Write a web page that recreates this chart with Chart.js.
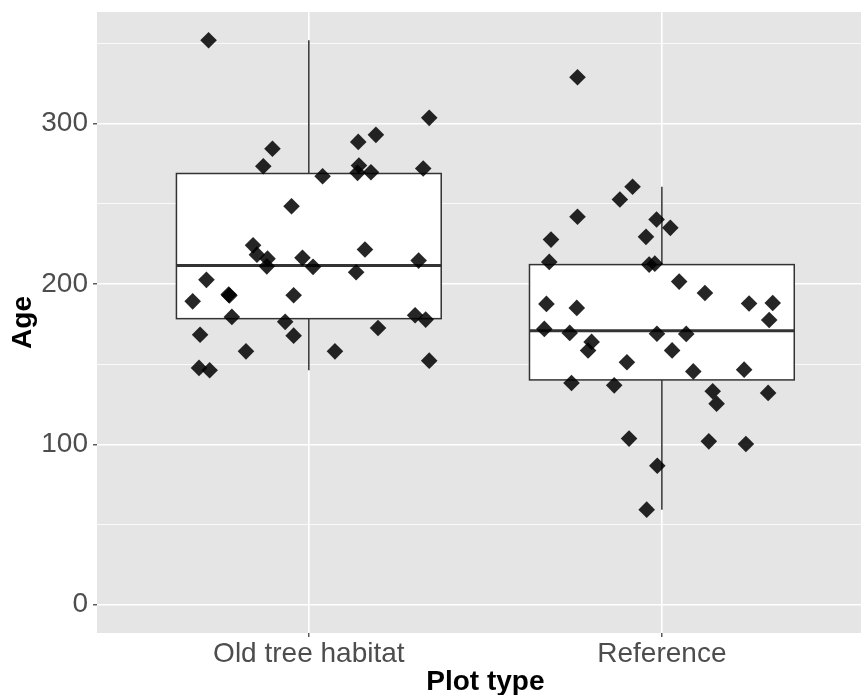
<!DOCTYPE html>
<html>
<head>
<meta charset="utf-8">
<script src="https://cdn.jsdelivr.net/npm/chart.js@4/dist/chart.umd.min.js"></script>
<style>
  html, body { margin: 0; padding: 0; background: #fff; }
  #wrap { width: 861px; height: 695px; overflow: hidden; }
</style>
</head>
<body>
<div id="wrap"><canvas id="ageChart" width="882" height="695"></canvas></div>
<script>
// categories and tick labels
const categories = ['Old tree habitat', 'Reference'];
const yTicks = [0, 50, 100, 150, 200, 250, 300, 350];

// jittered points (x position, age)
const oldX = [0.716, 1.341, 1.190, 1.140, 0.897, 1.142, 0.871, 1.324, 1.176, 1.138,
              1.039, 0.951, 0.842, 1.159, 0.853, 0.982, 0.883, 1.311, 0.881, 1.012,
              1.134, 0.710, 0.773, 0.775, 0.957, 0.671, 1.301, 0.782, 1.331, 0.933,
              1.196, 0.692, 0.957, 0.822, 1.074, 1.341, 0.689, 0.719];
const oldAge = [352.0, 303.6, 293.0, 288.6, 284.3, 273.9, 273.4, 272.0, 269.7, 269.3,
                267.2, 248.5, 224.1, 221.5, 218.3, 216.3, 215.8, 214.6, 211.0, 210.7,
                207.3, 202.6, 193.4, 192.8, 193.0, 189.2, 180.5, 179.5, 177.8, 176.4,
                172.6, 168.4, 167.8, 158.0, 158.0, 152.2, 147.7, 146.2];

const refX = [1.761, 1.917, 1.881, 1.761, 1.686, 1.985, 2.024, 1.955, 1.681, 1.964,
              1.980, 2.049, 2.122, 1.673, 1.759, 2.247, 2.314, 2.304, 1.667, 1.739,
              1.801, 1.791, 1.986, 2.069, 2.029, 1.901, 2.089, 2.233, 1.744, 1.865,
              2.144, 2.155, 2.301, 1.907, 2.133, 2.238, 1.987, 1.957];
const refAge = [328.9, 260.6, 252.7, 241.9, 227.7, 240.2, 235.0, 229.4, 213.8, 212.1,
                212.7, 201.5, 194.4, 187.6, 185.1, 187.8, 188.2, 177.6, 172.0, 169.5,
                163.9, 158.5, 169.0, 168.9, 158.6, 151.2, 145.5, 146.6, 138.3, 136.8,
                133.1, 125.4, 132.1, 103.6, 101.9, 100.2, 86.7, 59.3];

// box statistics per category
const whiskerLow = [146.2, 59.3];
const boxQ1 = [178.4, 140.2];
const boxMedian = [211.5, 170.9];
const boxQ3 = [268.9, 212.1];
const whiskerHigh = [352.0, 260.6];

const FONT = '"Liberation Sans", Arial, Helvetica, sans-serif';

function toPoints(xs, ys) {
    return xs.map((x, i) => ({ x: x, y: ys[i] }));
}

// grey panel behind everything
const panelBg = {
    id: 'panelBg',
    beforeDraw(chart) {
        const { ctx, chartArea: a } = chart;
        ctx.save();
        ctx.fillStyle = '#E5E5E5';
        ctx.fillRect(a.left, a.top, a.right - a.left, a.bottom - a.top);
        ctx.restore();
    }
};

// boxplots drawn with the chart's scales
const boxPlot = {
    id: 'boxPlot',
    beforeDatasetsDraw(chart) {
        const ctx = chart.ctx;
        const xs = chart.scales.x;
        const ys = chart.scales.y;
        const half = 0.375;
        ctx.save();
        ctx.strokeStyle = '#333333';
        categories.forEach((c, i) => {
            const pos = i + 1;
            const cx = xs.getPixelForValue(pos);
            const x0 = xs.getPixelForValue(pos - half);
            const x1 = xs.getPixelForValue(pos + half);
            const yLo = ys.getPixelForValue(whiskerLow[i]);
            const yQ1 = ys.getPixelForValue(boxQ1[i]);
            const yMed = ys.getPixelForValue(boxMedian[i]);
            const yQ3 = ys.getPixelForValue(boxQ3[i]);
            const yHi = ys.getPixelForValue(whiskerHigh[i]);

            ctx.lineWidth = 1.5;
            ctx.beginPath();
            ctx.moveTo(cx, yHi); ctx.lineTo(cx, yQ3);
            ctx.moveTo(cx, yQ1); ctx.lineTo(cx, yLo);
            ctx.stroke();

            ctx.fillStyle = '#FFFFFF';
            ctx.fillRect(x0, yQ3, x1 - x0, yQ1 - yQ3);
            ctx.strokeRect(x0, yQ3, x1 - x0, yQ1 - yQ3);

            ctx.lineWidth = 3;
            ctx.beginPath();
            ctx.moveTo(x0, yMed); ctx.lineTo(x1, yMed);
            ctx.stroke();
        });
        ctx.restore();
    }
};

const pointStyle = {
    pointStyle: 'rectRot',
    pointRadius: 8.3,
    pointHoverRadius: 8.3,
    backgroundColor: 'rgba(0,0,0,0.85)',
    borderWidth: 0
};

new Chart(document.getElementById('ageChart').getContext('2d'), {
    type: 'scatter',
    data: {
        datasets: [
            Object.assign({ label: categories[0], data: toPoints(oldX, oldAge) }, pointStyle),
            Object.assign({ label: categories[1], data: toPoints(refX, refAge) }, pointStyle)
        ]
    },
    options: {
        responsive: false,
        animation: false,
        layout: { padding: { top: 12, right: 7, left: 0, bottom: 0 } },
        plugins: {
            legend: { display: false },
            tooltip: { enabled: false }
        },
        scales: {
            x: {
                type: 'linear',
                min: 0.4,
                max: 2.6,
                afterBuildTicks: function(scale) {
                    scale.ticks = [{ value: 1 }, { value: 2 }];
                },
                afterFit: function(scale) {
                    scale.height = 62;
                    scale.paddingLeft = 0;
                    scale.paddingRight = 0;
                },
                ticks: {
                    padding: 0,
                    color: '#4D4D4D',
                    font: { family: FONT, size: 28 },
                    callback: function(value) {
                        return categories[Math.round(value) - 1];
                    }
                },
                grid: {
                    color: '#FFFFFF',
                    lineWidth: 1.6,
                    tickColor: '#333333',
                    tickLength: 4,
                    tickWidth: 1.2
                },
                border: { display: false },
                title: {
                    display: true,
                    text: 'Plot type',
                    color: '#000000',
                    font: { family: FONT, size: 28, weight: 'bold' },
                    padding: { top: 0, bottom: -4 }
                }
            },
            y: {
                min: -17.6,
                max: 369.6,
                afterBuildTicks: function(scale) {
                    scale.ticks = yTicks.map(v => ({ value: v }));
                },
                afterFit: function(scale) {
                    scale.width = 97;
                    scale.paddingTop = 0;
                    scale.paddingBottom = 0;
                },
                ticks: {
                    padding: 5,
                    color: '#4D4D4D',
                    font: { family: FONT, size: 28 },
                    callback: function(value) {
                        return value % 100 === 0 ? String(value) : '';
                    }
                },
                grid: {
                    color: '#FFFFFF',
                    lineWidth: ctx => (ctx.tick && ctx.tick.value % 100 === 0 ? 1.6 : 0.8),
                    tickColor: ctx => (ctx.tick && ctx.tick.value % 100 === 0 ? '#333333' : 'rgba(0,0,0,0)'),
                    tickLength: 4,
                    tickWidth: 1.2
                },
                border: { display: false },
                title: {
                    display: true,
                    text: 'Age',
                    color: '#000000',
                    font: { family: FONT, size: 28, weight: 'bold' },
                    padding: { top: 6, bottom: 0 }
                }
            }
        }
    },
    plugins: [panelBg, boxPlot]
});
</script>
</body>
</html>
